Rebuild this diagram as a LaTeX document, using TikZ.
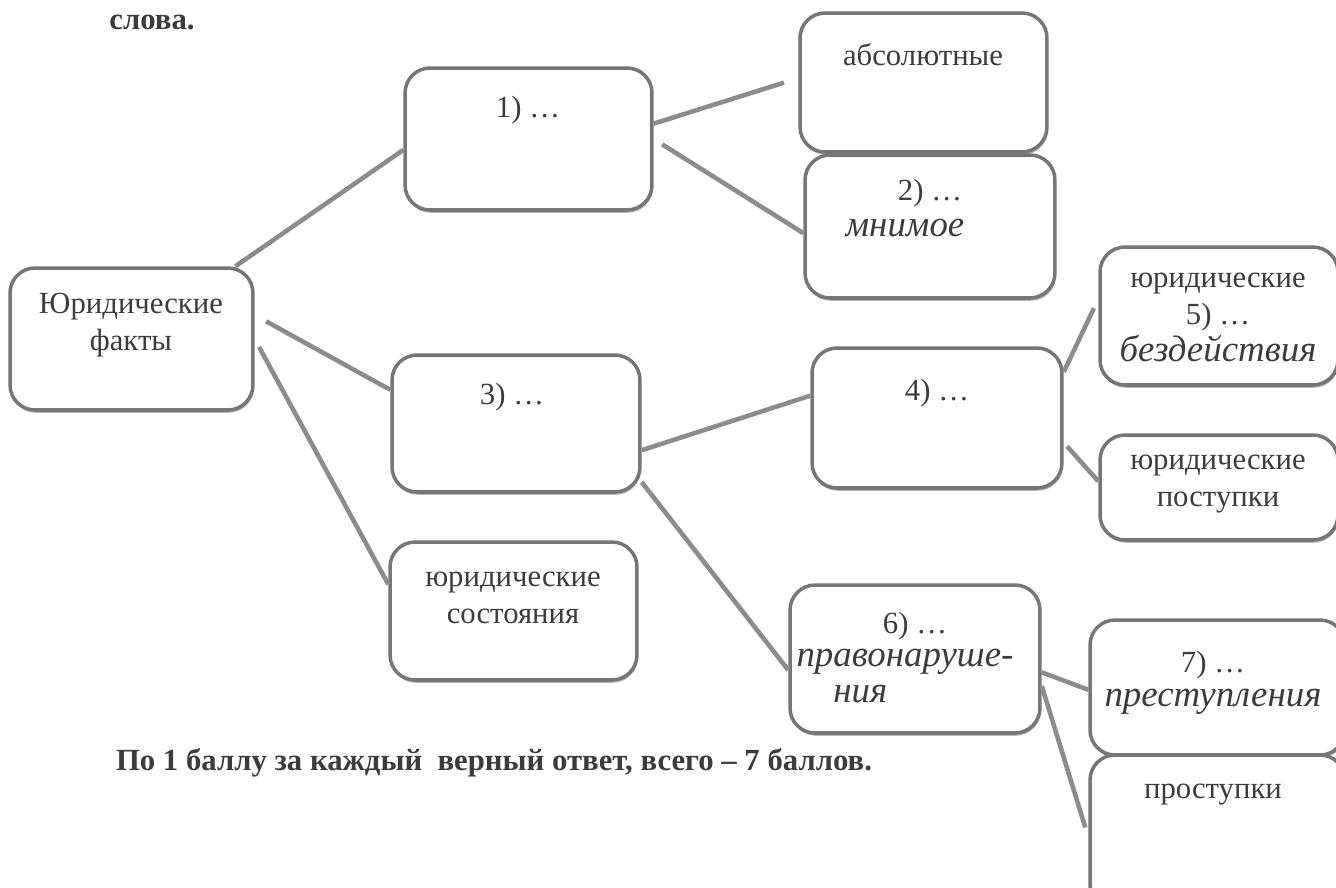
\documentclass[tikz,border=0pt]{standalone}
\usepackage{fontspec}
\setmainfont{Liberation Serif}
\usetikzlibrary{positioning,shadows}
\definecolor{boxgray}{HTML}{767676}
\definecolor{linegray}{HTML}{8C8C8C}
\definecolor{textgray}{HTML}{3C3C3C}

\begin{document}
\begin{tikzpicture}[x=0.02cm,y=-0.02cm,
            box/.style={draw=boxgray,line width=2pt,rounded corners=0.5cm,fill=white,
                drop shadow={shadow xshift=0.5pt,shadow yshift=-1.6pt,fill=gray!70,opacity=0.8}},
            txt/.style={font=\fontsize{17.5}{21}\selectfont,text=textgray,align=center,inner sep=0pt},
            hand/.style={font=\fontsize{21}{20}\selectfont\itshape,text=textgray,align=center,inner sep=0pt},
            bold/.style={font=\fontsize{17.5}{21}\selectfont\bfseries,text=textgray,inner sep=0pt},
            link/.style={draw=linegray,line width=2.6pt}]
            \clip (0,0) rectangle (1336,887);
            \fill[white] (0,0) rectangle (1336,887);

            \node[box,minimum width=4.86cm,minimum height=2.84cm] (facts)    at (131.5,339)  {};
            \node[box,minimum width=4.94cm,minimum height=2.84cm] (events)   at (528.5,139)  {};
            \node[box,minimum width=4.94cm,minimum height=2.78cm] (absolute) at (923.5,82.5) {};
            \node[box,minimum width=5.00cm,minimum height=2.86cm] (relative) at (930,226.5)  {};
            \node[box,minimum width=4.96cm,minimum height=2.74cm] (actions)  at (516,423.5)  {};
            \node[box,minimum width=4.94cm,minimum height=2.76cm] (states)   at (513.5,611)  {};
            \node[box,minimum width=5.00cm,minimum height=2.80cm] (lawful)   at (937,418)    {};
            \node[box,minimum width=4.76cm,minimum height=2.76cm] (inaction) at (1219,316)   {};
            \node[box,minimum width=4.76cm,minimum height=2.10cm] (deeds)    at (1219,487.5) {};
            \node[box,minimum width=5.00cm,minimum height=2.96cm] (offences) at (915,659)    {};
            \node[box,minimum width=5.10cm,minimum height=2.70cm] (crimes)   at (1217.5,687.5) {};
            \node[box,minimum width=5.10cm,minimum height=3.10cm] (misdeeds) at (1217.5,832.5) {};

            \node[txt]  (factsT)    at (131,325)  {Юридические\\факты};
            \node[txt]  (eventsT)   at (528,110)  {1) …};
            \node[txt]  (absoluteT) at (923,55)   {абсолютные};
            \node[txt]  (relativeT) at (930,193)  {2) …};
            \node[hand] (relativeH) at (905,228)  {мнимое};
            \node[txt]  (actionsT)  at (512,397)  {3) …};
            \node[txt]  (statesT)   at (513,598)  {юридические\\состояния};
            \node[txt]  (lawfulT)   at (937,393)  {4) …};
            \node[txt]  (inactionT) at (1218,302) {юридические\\5) …};
            \node[hand] (inactionH) at (1218,348) {бездействия};
            \node[txt]  (deedsT)    at (1218,484) {юридические\\поступки};
            \node[txt]  (offencesT) at (915,626)  {6) …};
            \node[hand,align=left] (offencesH) at (905,676) {правонаруше-\\\quad ния};
            \node[txt]  (crimesT)   at (1213,665) {7) …};
            \node[hand] (crimesH)   at (1213,702) {преступления};
            \node[txt]  (misdeedsT) at (1213,795) {проступки};

            \node[bold] (header) at (152,22)  {слова.};
            \node[bold] (footer) at (494,763) {По 1 баллу за каждый \ верный ответ, всего – 7 баллов.};

            \draw[link] (facts.35) -- (events.185);
            \draw[link,shorten <=0.26cm] (facts.11) -- (actions.165);
            \draw[link,shorten <=0.18cm] (facts.0) -- (states.168);
            \draw[link,shorten >=0.3cm] (events.7) -- (absolute.178);
            \draw[link,shorten <=0.2cm] (events.0) -- (relative.183);
            \draw[link] (actions.348) -- (lawful.170);
            \draw[link] (actions.335) -- (offences.185);
            \draw[link,shorten >=0.2cm] (lawful.20) -- (inaction.172);
            \draw[link,shorten <=0.1cm] (lawful.349) -- (deeds.177);
            \draw[link] (offences.354) -- (crimes.181);
            \draw[link,shorten >=0.2cm] (offences.348) -- (misdeeds.182);
        \end{tikzpicture}
\end{document}
